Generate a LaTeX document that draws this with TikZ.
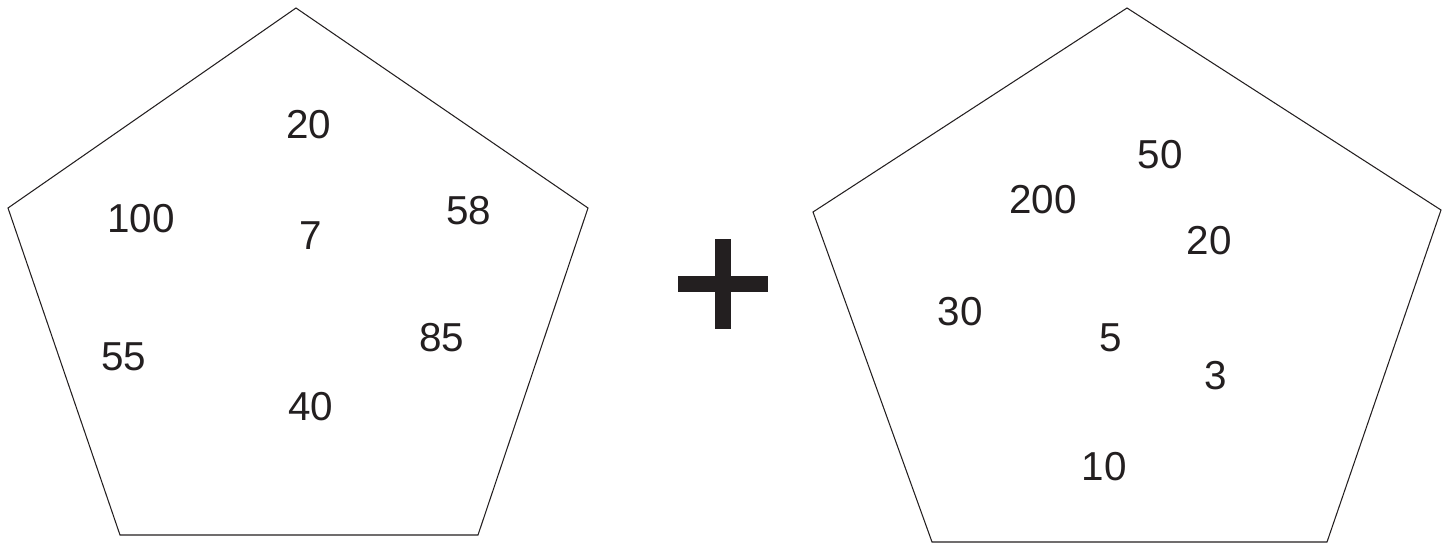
\documentclass[tikz,border=0pt]{standalone}
\usepackage{fontspec}
\setmainfont{Liberation Sans}
\definecolor{inkcol}{HTML}{231F20}

\begin{document}
\begin{tikzpicture}[
  x=0.02cm, y=-0.02cm,
  every node/.style={font=\fontsize{23}{27}\selectfont, text=inkcol, inner sep=0pt},
  outline/.style={draw=inkcol, line width=0.6pt, line join=miter},
  plusbar/.style={fill=inkcol, draw=none}
]
\useasboundingbox (0,0) rectangle (1447,547);

%% --- left pentagon ---
\coordinate (lt)  at (296,8);
\coordinate (lr)  at (588,208);
\coordinate (lbr) at (478,535);
\coordinate (lbl) at (120,535);
\coordinate (ll)  at (8,208);
\draw[outline] (lt) -- (lr) -- (lbr) -- (lbl) -- (ll) -- cycle;

\node (ltwenty)  at (309,125) {20};
\node (lhundred) at (141,219) {100};
\node (lseven)   at (311,236) {7};
\node (lfifty)   at (469,211) {58};
\node (leighty)  at (442,338) {85};
\node (lfive)    at (124,357) {55};
\node (lforty)   at (311,407) {40};

%% --- plus sign ---
\fill[plusbar] (678,276) rectangle (768,292);
\fill[plusbar] (715,239) rectangle (731,329);

%% --- right pentagon ---
\coordinate (rt)  at (1127,8);
\coordinate (rr)  at (1441,210);
\coordinate (rbr) at (1327,542);
\coordinate (rbl) at (932,542);
\coordinate (rl)  at (813,212);
\draw[outline] (rt) -- (rr) -- (rbr) -- (rbl) -- (rl) -- cycle;

\node (rfifty)   at (1160,155) {50};
\node (rtwohund) at (1043,200) {200};
\node (rtwenty)  at (1209,241) {20};
\node (rthirty)  at (960,312)  {30};
\node (rfive)    at (1111,338) {5};
\node (rthree)   at (1216,376) {3};
\node (rten)     at (1104,467) {10};

\end{tikzpicture}
\end{document}
